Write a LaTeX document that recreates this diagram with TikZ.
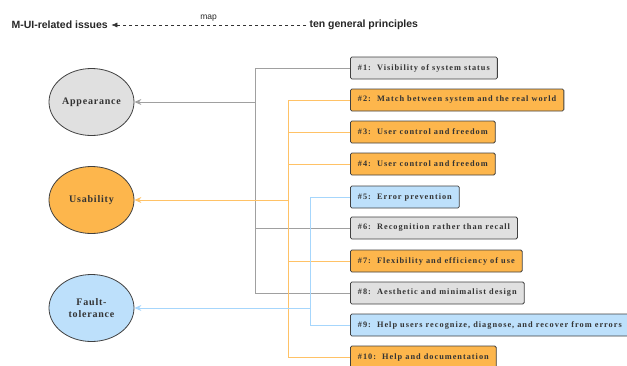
\documentclass[tikz,border=0pt]{standalone}
\usepackage{fontspec}
\setmainfont{Liberation Serif}
\setsansfont{Liberation Sans}
\newfontfamily\boxfont[LetterSpace=12]{Liberation Serif}
\newfontfamily\issuefont[LetterSpace=8]{Liberation Serif}
\usetikzlibrary{arrows.meta,positioning,shapes.geometric}

\definecolor{grayfill}{HTML}{E0E0E0}
\definecolor{orangefill}{HTML}{FDB64C}
\definecolor{bluefill}{HTML}{BDE0FB}
\definecolor{grayline}{HTML}{A0A0A0}
\definecolor{orangeline}{HTML}{FFC266}
\definecolor{blueline}{HTML}{A6D6FC}

\tikzset{
  issue/.style={ellipse,draw=black!75,line width=0.8pt,minimum width=85pt,
    minimum height=67pt,inner sep=0pt,align=center,
    font=\issuefont\bfseries\fontsize{10}{12}\selectfont,text=black!80},
  principle/.style={draw=black!75,line width=0.8pt,rounded corners=1.5pt,
    anchor=west,minimum height=22pt,inner xsep=7.5pt,
    font=\boxfont\bfseries\fontsize{8.3}{9}\selectfont,text=black!80},
  link/.style={line width=0.9pt},
  tip/.style={-{Stealth[length=7pt,width=6pt]}}
}

\begin{document}
\begin{tikzpicture}[x=1pt,y=-1pt]
   \useasboundingbox (0,0) rectangle (627,365);
   % header
   \node[anchor=west,font=\sffamily\bfseries\fontsize{10.5}{12}\selectfont,text=black!85] (mui) at (8,25) {M-UI-related issues};
   \node[anchor=west,font=\sffamily\bfseries\fontsize{10.5}{12}\selectfont,text=black!85] (ten) at (306,25) {ten general principles};
   \draw[dashed,line width=0.6pt,-{Latex[length=6pt,width=5pt]},black!80] (ten.west) -- (mui.east)
      node[midway,above=0pt,font=\sffamily\fontsize{8.5}{9}\selectfont,text=black!85] {map};

   % issues
   \node[issue,fill=grayfill] (app) at (91.5,102) {Appearance};
   \node[issue,fill=orangefill] (usa) at (91.5,200) {Usability};
   \node[issue,fill=bluefill] (fault) at (91.5,308) {Fault-\\tolerance};

   % principles
   \node[principle,fill=grayfill] (p1) at (350,68) {\#1:\ \ Visibility of system status};
   \node[principle,fill=orangefill] (p2) at (350,100) {\#2:\ \ Match between system and the real world};
   \node[principle,fill=orangefill] (p3) at (350,132) {\#3:\ \ User control and freedom};
   \node[principle,fill=orangefill] (p4) at (350,164) {\#4:\ \ User control and freedom};
   \node[principle,fill=bluefill] (p5) at (350,197) {\#5:\ \ Error prevention};
   \node[principle,fill=grayfill] (p6) at (350,228) {\#6:\ \ Recognition rather than recall};
   \node[principle,fill=orangefill] (p7) at (350,261) {\#7:\ \ Flexibility and efficiency of use};
   \node[principle,fill=grayfill] (p8) at (350,293) {\#8:\ \ Aesthetic and minimalist design};
   \node[principle,fill=bluefill] (p9) at (350,325) {\#9:\ \ Help users recognize, diagnose, and recover from errors};
   \node[principle,fill=orangefill] (p10) at (350,357) {\#10:\ \ Help and documentation};

   % trunks
   \coordinate (gx) at (255,0);
   \coordinate (ox) at (288,0);
   \coordinate (bx) at (310,0);

   \draw[link,grayline] (p1.west) -- (p1.west -| gx) |- (p8.west);
   \draw[link,grayline] (p6.west) -- (p6.west -| gx);
   \draw[link,grayline,tip] (app.east -| gx) -- (app.east);

   \draw[link,orangeline] (p2.west) -- (p2.west -| ox) |- (p10.west);
   \foreach \p in {p3,p4,p7}
      \draw[link,orangeline] (\p.west) -- (\p.west -| ox);
   \draw[link,orangeline,tip] (usa.east -| ox) -- (usa.east);

   \draw[link,blueline] (p5.west) -- (p5.west -| bx) |- (p9.west);
   \draw[link,blueline,tip] (fault.east -| bx) -- (fault.east);
\end{tikzpicture}
\end{document}
